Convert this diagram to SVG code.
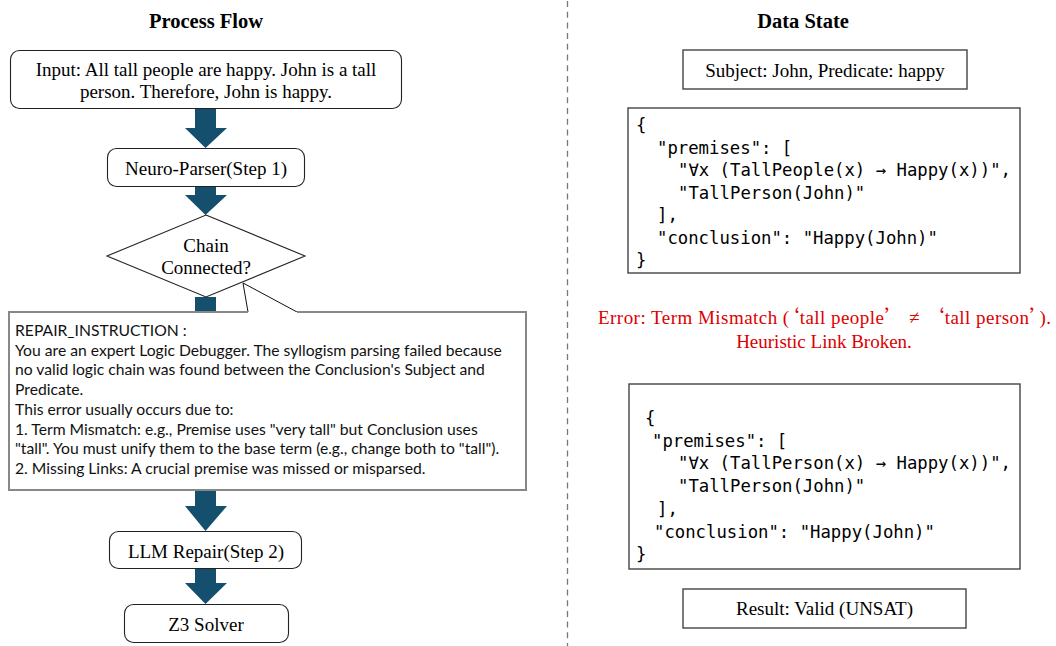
<svg xmlns="http://www.w3.org/2000/svg" width="1056" height="646" viewBox="0 0 1056 646">
<style>
.title{font-family:"Liberation Serif",serif;font-weight:bold;font-size:20.5px;fill:#000;text-anchor:middle}
.ser{font-family:"Liberation Serif",serif;font-size:19px;fill:#000;text-anchor:middle}
.node{fill:#fff;stroke:#222;stroke-width:1.1}
.box{fill:#fff;stroke:#444;stroke-width:1.4}
.code{font-family:"DejaVu Sans Mono",monospace;font-size:17.3px;fill:#000}
.call{font-family:Lato,"Open Sans",sans-serif;font-size:15.7px;fill:#111}
.arrow{fill:#14506e}
.err{font-family:"Liberation Serif",serif;font-size:19px;fill:#dc0000;text-anchor:middle}
.cjk{font-family:"Noto Sans CJK SC",sans-serif}
</style>
<rect width="1056" height="646" fill="#fff"/>
<line x1="567.5" y1="1" x2="567.5" y2="646" stroke="#777" stroke-width="1.3" stroke-dasharray="6 4.7"/>
<text class="title" x="206" y="28">Process Flow</text>
<text class="title" x="803" y="28">Data State</text>

<g id="connectors">
  <polygon class="arrow" points="195,109 216,109 216,128 227,128 205.5,148 185,128 195,128"/>
  <polygon class="arrow" points="195,187 216,187 216,195 227,195 205.5,215 185,195 195,195"/>
  <polygon class="arrow" points="195,297 216,297 216,506 227,506 205.5,531 185,506 195,506"/>
  <polygon class="arrow" points="195,569 216,569 216,583 227,583 205.5,604 185,583 195,583"/>
</g>

<g id="input">
  <rect class="node" x="10.5" y="50.5" width="391" height="58" rx="9"/>
  <text class="ser" x="206" y="75.5">Input: All tall people are happy. John is a tall</text>
  <text class="ser" x="206" y="98">person. Therefore, John is happy.</text>
</g>
<g id="parser">
  <rect class="node" x="107.5" y="148.5" width="197" height="38" rx="9"/>
  <text class="ser" x="206" y="174.5">Neuro-Parser(Step 1)</text>
</g>
<g id="decision">
  <polygon class="node" points="206,215 305,256 206,297 107,256"/>
  <text class="ser" x="206" y="251.5">Chain</text>
  <text class="ser" x="206" y="274">Connected?</text>
</g>
<g id="repair_instruction">
  <path d="M248,312 L243,283 L297,312" fill="#fff" stroke="#111" stroke-width="1"/>
  <path d="M248,312 H9 V490 H526 V312 H297" fill="#fff" stroke="#888" stroke-width="2"/>
  <text class="call" x="15" y="336">REPAIR_INSTRUCTION :</text>
  <text class="call" x="15" y="355.7">You are an expert Logic Debugger. The syllogism parsing failed because</text>
  <text class="call" x="15" y="375.4">no valid logic chain was found between the Conclusion's Subject and</text>
  <text class="call" x="15" y="395.1">Predicate.</text>
  <text class="call" x="15" y="414.8">This error usually occurs due to:</text>
  <text class="call" x="15" y="434.5">1. Term Mismatch: e.g., Premise uses "very tall" but Conclusion uses</text>
  <text class="call" x="15" y="454.2">"tall". You must unify them to the base term (e.g., change both to "tall").</text>
  <text class="call" x="15" y="473.9">2. Missing Links: A crucial premise was missed or misparsed.</text>
</g>
<g id="llm_repair">
  <rect class="node" x="109.5" y="531.5" width="192" height="37" rx="9"/>
  <text class="ser" x="206" y="557.5">LLM Repair(Step 2)</text>
</g>
<g id="z3">
  <rect class="node" x="124.5" y="604.5" width="164" height="38" rx="9"/>
  <text class="ser" x="206" y="630.5">Z3 Solver</text>
</g>

<g id="subject">
  <rect class="box" x="683" y="50" width="284" height="39"/>
  <text class="ser" x="825" y="76.5">Subject: John, Predicate: happy</text>
</g>
<g id="json_before">
  <rect class="box" x="628" y="108" width="392" height="165"/>
  <text class="code" x="636" y="131">{</text>
  <text class="code" x="657" y="153.5">"premises": [</text>
  <text class="code" x="678" y="176">"∀x (TallPeople(x) → Happy(x))",</text>
  <text class="code" x="678" y="198.5">"TallPerson(John)"</text>
  <text class="code" x="657" y="221">],</text>
  <text class="code" x="657" y="243.5">"conclusion": "Happy(John)"</text>
  <text class="code" x="636" y="266">}</text>
</g>
<g id="error">
  <text class="err" x="824.5" y="324" textLength="453" lengthAdjust="spacing">Error: Term Mismatch (<tspan class="cjk">‘</tspan>tall people<tspan class="cjk">’</tspan>  ≠  <tspan class="cjk">‘</tspan>tall person<tspan class="cjk">’</tspan>).</text>
  <text class="err" x="824" y="347.5">Heuristic Link Broken.</text>
</g>
<g id="json_after">
  <rect class="box" x="629" y="384" width="391" height="185"/>
  <text class="code" x="645" y="424">{</text>
  <text class="code" x="652" y="446.7">"premises": [</text>
  <text class="code" x="678" y="469.4">"∀x (TallPerson(x) → Happy(x))",</text>
  <text class="code" x="678" y="492">"TallPerson(John)"</text>
  <text class="code" x="657" y="514.8">],</text>
  <text class="code" x="654" y="537.5">"conclusion": "Happy(John)"</text>
  <text class="code" x="636" y="560">}</text>
</g>
<g id="result">
  <rect class="box" x="683" y="589" width="283" height="39"/>
  <text class="ser" x="824.5" y="615">Result: Valid (UNSAT)</text>
</g>
</svg>
